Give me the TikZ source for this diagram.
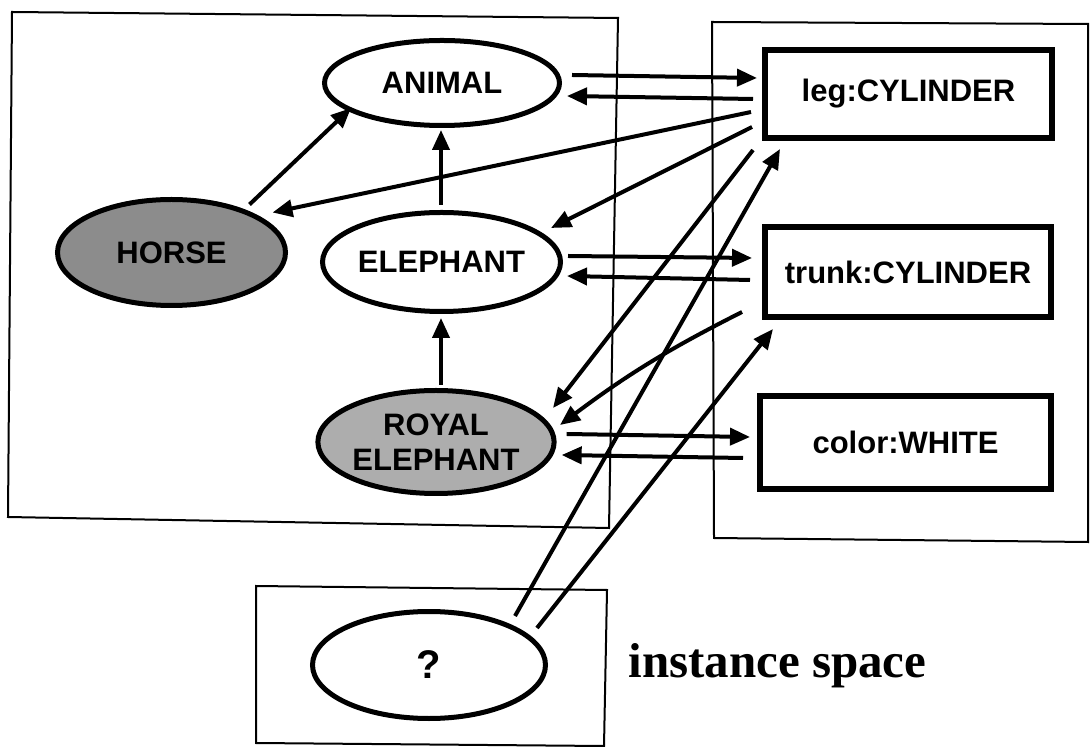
\documentclass[tikz,border=0pt]{standalone}
\usepackage{fontspec}
\setmainfont{Liberation Sans}
\newfontfamily\labelserif{Liberation Serif}
\usetikzlibrary{arrows.meta,shapes.geometric}

\begin{document}
\begin{tikzpicture}[x=0.5pt,y=-0.5pt,
  concept/.style={ellipse,draw,line width=2.5pt,inner sep=0pt,align=center,
    font=\fontsize{15.5}{17.5}\selectfont\bfseries},
  slot/.style={rectangle,draw,line width=3.2pt,inner sep=0pt,
    font=\fontsize{15.5}{18}\selectfont\bfseries},
  space/.style={line width=1pt},
  link/.style={line width=2pt,-{Triangle[length=10pt,width=8.5pt]}},
]
\useasboundingbox (0,0) rectangle (1091,747);

% the three spaces
\draw[space] (12,12) -- (618,18) -- (609,528) -- (8,517) -- cycle;
\draw[space] (712,22) -- (1088,24) -- (1088,542) -- (714,538) -- cycle;
\draw[space] (256,586) -- (607,590) -- (604,746) -- (256,743) -- cycle;

% concept hierarchy
\node[concept,minimum width=117.5pt,minimum height=42.5pt] (animal) at (442,83) {ANIMAL};
\node[concept,fill=black!45,minimum width=114pt,minimum height=53pt] (horse) at (171.5,252.5) {HORSE};
\node[concept,minimum width=119pt,minimum height=49.5pt] (elephant) at (441.5,262) {ELEPHANT};
\node[concept,fill=black!32,minimum width=116.5pt,minimum height=51.5pt] (royal) at (436,442) {ROYAL\\ELEPHANT};

% role slots
\node[slot,minimum width=143.3pt,minimum height=43.8pt] (leg) at (908.5,94) {leg:CYLINDER};
\node[slot,minimum width=142.8pt,minimum height=44.8pt] (trunk) at (908,272) {trunk:CYLINDER};
\node[slot,minimum width=145.3pt,minimum height=46.3pt] (color) at (905.5,442.5) {color:WHITE};

% the instance
\node[concept,minimum width=116.5pt,minimum height=53.5pt,font=\fontsize{20}{24}\selectfont\bfseries] (query) at (429,665) {?};
\node[anchor=base west,inner sep=0pt,font=\labelserif\fontsize{24.5}{28}\selectfont\bfseries] (caption) at (628,677) {instance space};

% subsumption links
\draw[link] ([xshift=39pt,yshift=24pt]horse.center) -- ([xshift=-45.5pt,yshift=-12.5pt]animal.center);
\draw[link] ([xshift=-0.25pt,yshift=28.5pt]elephant.center) -- ([xshift=-0.5pt,yshift=-23.5pt]animal.center);
\draw[link] ([xshift=2.5pt,yshift=28.5pt]royal.center) -- ([xshift=-0.25pt,yshift=-28pt]elephant.center);

% concept <-> role links
\draw[link] ([xshift=5pt,yshift=4pt]animal.east) -- ([xshift=-2.5pt,yshift=8pt]leg.west);
\draw[link] ([xshift=-4.5pt,yshift=-2.5pt]leg.west) -- ([xshift=2.5pt,yshift=-6.5pt]animal.east);
\draw[link] ([xshift=-5.5pt,yshift=-9pt]leg.west) -- ([xshift=50.5pt,yshift=20pt]horse.center);
\draw[link] ([xshift=-5pt,yshift=-16.5pt]leg.west) -- ([xshift=54.75pt,yshift=17pt]elephant.center);
\draw[link] ([xshift=2.5pt,yshift=3pt]elephant.east) -- ([xshift=-5pt,yshift=7pt]trunk.west);
\draw[link] ([xshift=-6pt,yshift=-4pt]trunk.west) -- ([xshift=2pt,yshift=-7pt]elephant.east);
\draw[link] ([xshift=-4.5pt,yshift=-28pt]leg.west) -- ([xshift=58.5pt,yshift=17pt]royal.center);
\draw[link] ([xshift=-10pt,yshift=-20pt]trunk.west) to[bend right=5] ([xshift=62pt,yshift=8.5pt]royal.center);
\draw[link] ([xshift=5pt,yshift=4pt]royal.east) -- ([xshift=-3.5pt,yshift=2.75pt]color.west);
\draw[link] ([xshift=-7pt,yshift=-7.75pt]color.west) -- ([xshift=2.5pt,yshift=-6.5pt]royal.east);

% instance links
\draw[link] ([xshift=43pt,yshift=24.5pt]query.center) -- ([xshift=9pt,yshift=-4pt]leg.south west);
\draw[link] ([xshift=54pt,yshift=18.5pt]query.center) -- ([xshift=5.5pt,yshift=-4.5pt]trunk.south west);
\end{tikzpicture}
\end{document}
